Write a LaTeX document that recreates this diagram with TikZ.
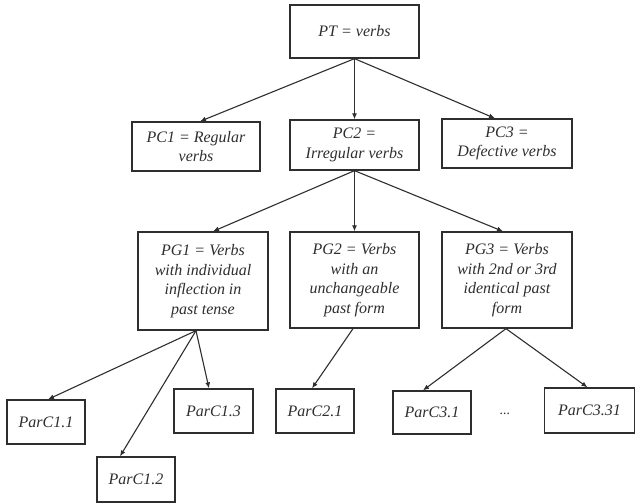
\documentclass[tikz,border=0pt]{standalone}
\usepackage{fontspec}
\setmainfont{Liberation Serif}
\usetikzlibrary{arrows.meta}
\definecolor{ink}{HTML}{2E2E2E}
\tikzset{
  box/.style={draw=ink, line width=1.3pt, inner sep=0pt, align=center,
    font=\itshape\fontsize{16}{19.5}\selectfont, text=ink},
  conn/.style={draw=ink, line width=1.1pt, -{Latex[length=6pt,width=5pt]}}
}
\begin{document}
\begin{tikzpicture}[x=1pt,y=-1pt]
\useasboundingbox (0,0) rectangle (636,503);
\node[box, minimum width=129pt, minimum height=53pt] (PT) at (354.5,31.5) {PT = verbs};
\node[box, minimum width=128pt, minimum height=49pt] (PC1) at (196,146.5) {PC1 = Regular\\verbs};
\node[box, minimum width=129pt, minimum height=50pt] (PC2) at (354.5,145) {PC2 =\\Irregular verbs};
\node[box, minimum width=130pt, minimum height=49pt] (PC3) at (507,143.5) {PC3 =\\Defective verbs};
\node[box, minimum width=130pt, minimum height=98pt] (PG1) at (203,281) {PG1 = Verbs\\with individual\\inflection in\\past tense};
\node[box, minimum width=129pt, minimum height=96pt] (PG2) at (354.5,280) {PG2 = Verbs\\with an\\unchangeable\\past form};
\node[box, minimum width=130pt, minimum height=96pt] (PG3) at (507,280) {PG3 = Verbs\\with 2nd or 3rd\\identical past\\form};
\node[box, minimum width=78pt, minimum height=44pt] (P11) at (46,422) {ParC1.1};
\node[box, minimum width=78pt, minimum height=45pt] (P12) at (136,479.5) {ParC1.2};
\node[box, minimum width=79pt, minimum height=44pt] (P13) at (213.5,411) {ParC1.3};
\node[box, minimum width=78pt, minimum height=44pt] (P21) at (315,411) {ParC2.1};
\node[box, minimum width=78pt, minimum height=43pt] (P31) at (432,412.5) {ParC3.1};
\node[font=\itshape\fontsize{14}{16}\selectfont, text=ink] (dots) at (505,414) {...};
\node[box, minimum width=90pt, minimum height=45pt] (P331) at (589.5,410.5) {ParC3.31};

\draw[conn] (PT.south) -- ([xshift=4pt]PC1.north);
\draw[conn] (PT.south) -- (PC2.north);
\draw[conn] (PT.south) -- ([xshift=-12pt]PC3.north);
\draw[conn] (PC2.south) -- ([xshift=10pt]PG1.north);
\draw[conn] (PC2.south) -- (PG2.north);
\draw[conn] (PC2.south) -- ([xshift=-4pt]PG3.north);
\draw[conn] ([xshift=-7pt]PG1.south) -- ([xshift=2pt]P11.north);
\draw[conn] ([xshift=-7pt]PG1.south) -- ([xshift=-16pt]P12.north);
\draw[conn] ([xshift=-7pt]PG1.south) -- ([xshift=-4.5pt]P13.north);
\draw[conn] ([xshift=-1.5pt]PG2.south) -- ([xshift=-3pt]P21.north);
\draw[conn] ([xshift=-1pt]PG3.south) -- ([xshift=-9pt]P31.north);
\draw[conn] ([xshift=-1pt]PG3.south) -- ([xshift=-2pt]P331.north);
\end{tikzpicture}
\end{document}
